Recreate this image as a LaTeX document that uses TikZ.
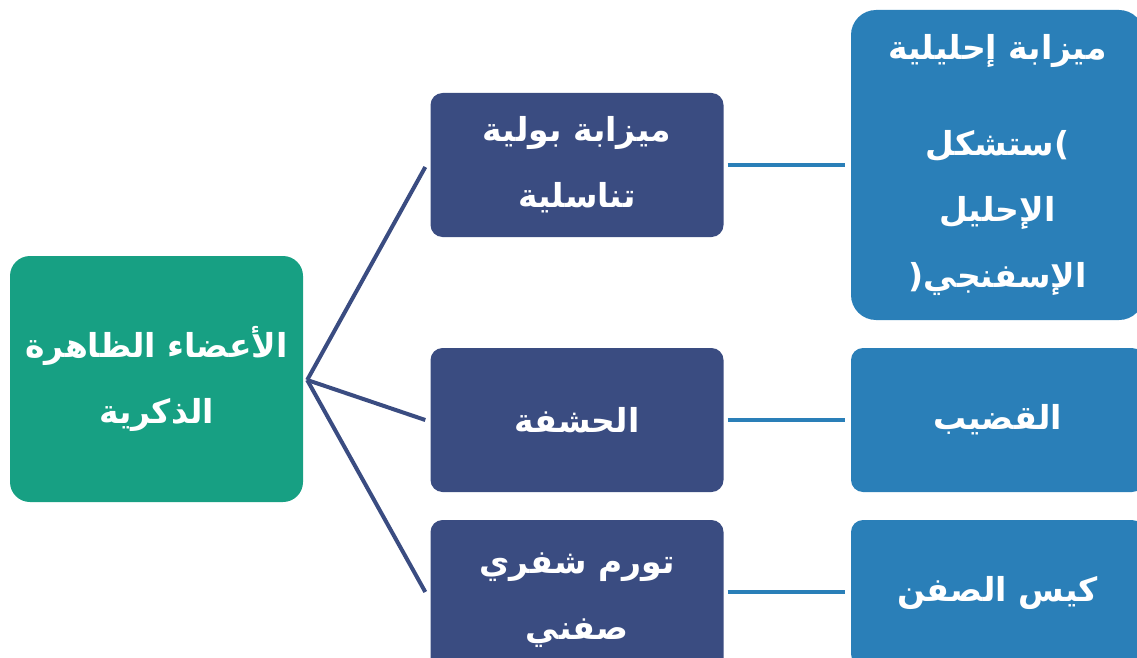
\documentclass[tikz,border=0pt]{standalone}
\usepackage{fontspec}
\TeXXeTstate=1
\newfontfamily\arabicfont[Script=Arabic]{DejaVu Sans}
\newcommand{\rtl}[1]{\beginR #1\endR}
\definecolor{hubgreen}{HTML}{17A083}
\definecolor{navybox}{HTML}{3A4C81}
\definecolor{steelbox}{HTML}{2A7FB8}
\tikzset{
  box/.style={rectangle, minimum width=293pt, text=white, align=center,
    inner sep=0pt, font=\arabicfont\bfseries\fontsize{33}{66}\selectfont},
  hubbox/.style={box, fill=hubgreen, rounded corners=20pt, minimum height=246pt},
  midbox/.style={box, fill=navybox, rounded corners=12pt, minimum height=144pt},
  leafbox/.style={box, fill=steelbox, rounded corners=12pt, minimum height=144pt},
  branch/.style={draw=navybox, line width=4pt},
  link/.style={draw=steelbox, line width=4pt}
}
\begin{document}
\begin{tikzpicture}[x=1pt,y=-1pt]
\useasboundingbox (0,0) rectangle (1137,658);
\clip (0,0) rectangle (1137,658);

% root
\node[hubbox] (root) at (156.5,379) {\rtl{الأعضاء الظاهرة}\\\rtl{الذكرية}};

% middle column
\node[midbox] (urethra) at (577,165) {\rtl{ميزابة بولية}\\\rtl{تناسلية}};
\node[midbox] (glans) at (577,420) {\rtl{الحشفة}};
\node[midbox, minimum height=160pt] (swelling) at (577,600) {\rtl{تورم شفري}\\\rtl{صفني}};

% right column (brackets written in visual order)
\node[leafbox, rounded corners=25pt, minimum height=310pt] (groove) at (997.5,165)
  {\rtl{ميزابة إحليلية}\\[30pt]\rtl{)ستشكل}\\\rtl{الإحليل}\\\rtl{الإسفنجي(}};
\node[leafbox] (penis) at (997.5,420) {\rtl{القضيب}};
\node[leafbox, minimum height=146pt] (scrotum) at (997.5,593) {\rtl{كيس الصفن}};

% branches from the root
\coordinate (hub) at ([xshift=4pt,yshift=-1pt]root.east);
\draw[branch] (hub) -- ([xshift=-5pt,yshift=-2pt]urethra.west);
\draw[branch] (hub) -- ([xshift=-5pt]glans.west);
\draw[branch] (hub) -- ([xshift=-5pt]swelling.west |- 0,592);

% horizontal links
\draw[link] ([xshift=4pt]urethra.east) -- ([xshift=-6pt]groove.west);
\draw[link] ([xshift=4pt]glans.east) -- ([xshift=-6pt]penis.west);
\draw[link] ([xshift=4pt]swelling.east |- 0,592) -- ([xshift=-6pt]scrotum.west |- 0,592);
\end{tikzpicture}
\end{document}
